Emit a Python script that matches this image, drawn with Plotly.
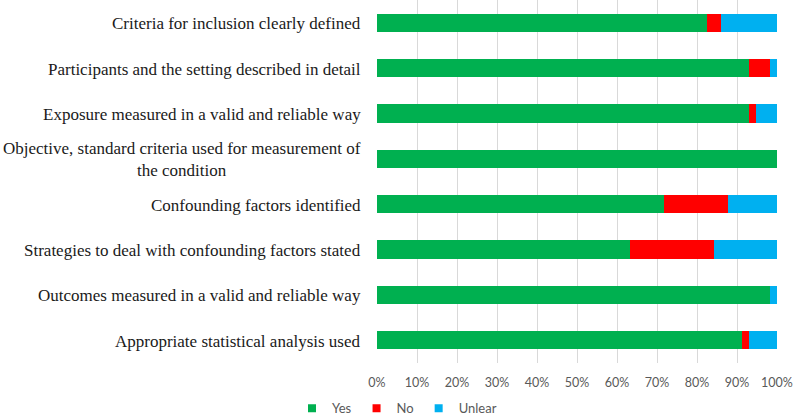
import plotly.graph_objects as go

categories = [
    "Criteria for inclusion clearly defined",
    "Participants and the setting described in detail",
    "Exposure measured in a valid and reliable way",
    "Objective, standard criteria used for measurement of<br>the condition",
    "Confounding factors identified",
    "Strategies to deal with confounding factors stated",
    "Outcomes measured in a valid and reliable way",
    "Appropriate statistical analysis used",
]
yes_vals = [82.6, 93.0, 93.0, 100.0, 71.7, 63.3, 98.3, 91.2]
no_vals = [3.3, 5.3, 1.7, 0.0, 16.0, 21.0, 0.0, 1.8]
unclear_vals = [14.1, 1.7, 5.3, 0.0, 12.3, 15.7, 1.7, 7.0]
x_ticks = list(range(0, 101, 10))
x_tick_labels = [f"{t}%" for t in x_ticks]

series = [("Yes", yes_vals, "#00B050"), ("No", no_vals, "#FF0000"), ("Unlear", unclear_vals, "#00B0F0")]

fig = go.Figure()
for name, vals, color in series:
    fig.add_trace(go.Bar(
        y=categories, x=vals, name=name, orientation="h",
        marker=dict(color=color, line=dict(width=0)),
        showlegend=False,
    ))
# legend entries with small square swatches
for name, vals, color in series:
    fig.add_trace(go.Scatter(
        x=[None], y=[None], mode="markers", name=name,
        marker=dict(symbol="square", size=8, color=color),
        showlegend=True,
    ))

for c in categories:
    fig.add_annotation(
        x=0, xref="paper", xanchor="right", xshift=-14,
        y=c, yref="y", yanchor="middle", yshift=-1,
        text=c, showarrow=False, align="center",
        font=dict(family="Liberation Serif", size=17, color="#1a1a1a"),
    )

fig.update_layout(
    width=794, height=417,
    margin=dict(l=377, r=17, t=0, b=54, autoexpand=False),
    barmode="stack", bargap=0.6,
    plot_bgcolor="white", paper_bgcolor="white",
    showlegend=True,
    legend=dict(orientation="h", traceorder="normal",
                x=0.05, xanchor="center", xref="paper",
                y=-0.125, yanchor="middle",
                font=dict(family="Lato", size=13, color="#595959"),
                itemwidth=30, entrywidth=0, tracegroupgap=0),
    xaxis=dict(range=[0, 100], tickvals=x_ticks, ticktext=x_tick_labels,
               showgrid=True, gridcolor="#d9d9d9", gridwidth=1,
               zeroline=False, showline=False, ticks="",
               ticklabelstandoff=10, automargin=False,
               tickfont=dict(family="Lato", size=12.5, color="#595959")),
    yaxis=dict(autorange="reversed", showticklabels=False, showgrid=False,
               zeroline=False, showline=False, automargin=False),
)

fig.write_html("out.html")
